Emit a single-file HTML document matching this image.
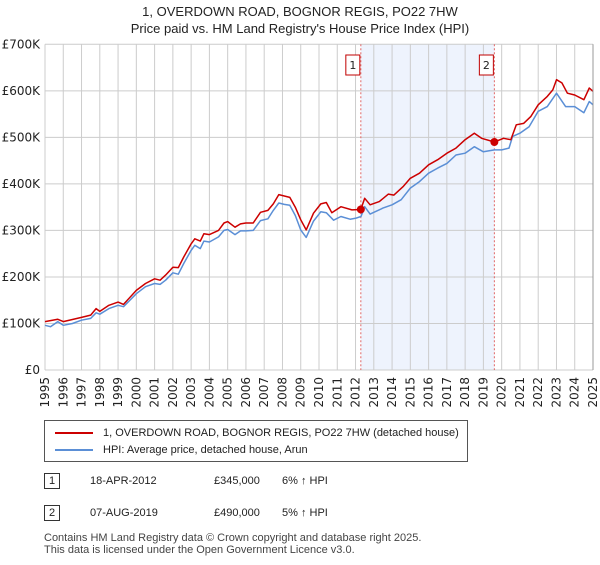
<!DOCTYPE html>
<html><head><meta charset="utf-8"><style>
body{margin:0;background:#fff;font-family:"Liberation Sans","DejaVu Sans",sans-serif;}
svg text{font-family:"DejaVu Sans","Liberation Sans",sans-serif;}
</style></head><body>
<svg width="600" height="560" xmlns="http://www.w3.org/2000/svg">
<g id="g"></g>
</svg>
<script>
const years=[1995,1996,1997,1998,1999,2000,2001,2002,2003,2004,2005,2006,2007,2008,2009,2010,2011,2012,2013,2014,2015,2016,2017,2018,2019,2020,2021,2022,2023,2024,2025];
const yTicks=[0,100000,200000,300000,400000,500000,600000,700000];
const yTickLabels=["£0","£100K","£200K","£300K","£400K","£500K","£600K","£700K"];
const hpiDates=[1995,1995.3,1995.7,1996,1996.5,1997,1997.5,1997.8,1998,1998.5,1999,1999.3,2000,2000.5,2001,2001.3,2001.6,2002,2002.3,2002.6,2003,2003.2,2003.5,2003.7,2004,2004.5,2004.8,2005,2005.4,2005.7,2006,2006.4,2006.8,2007.2,2007.5,2007.8,2008.1,2008.4,2008.7,2009,2009.3,2009.7,2010.1,2010.4,2010.8,2011.2,2011.7,2012,2012.3,2012.5,2012.8,2013.5,2014,2014.5,2015,2015.5,2016,2016.5,2017,2017.5,2018,2018.5,2019,2019.6,2020,2020.4,2020.6,2021,2021.5,2022,2022.5,2023,2023.5,2024,2024.5,2024.8,2025];
const hpiValues=[96,93,104,96,100,107,111,123,120,132,139,136,164,179,186,184,193,209,206,229,257,268,261,277,275,286,300,302,291,299,299,300,321,325,343,359,356,354,332,301,285,320,340,338,322,330,324,326,330,351,335,348,355,366,391,405,423,434,444,462,466,480,469,473,473,477,502,509,523,556,566,595,566,566,553,577,570];
const priceDates=[1995,1995.7,1996,1997,1997.5,1997.8,1998,1998.5,1999,1999.3,2000,2000.5,2001,2001.3,2001.6,2002,2002.3,2002.6,2003,2003.2,2003.5,2003.7,2004,2004.5,2004.8,2005,2005.4,2005.7,2006,2006.4,2006.8,2007.2,2007.5,2007.8,2008.1,2008.4,2008.7,2009,2009.3,2009.7,2010.1,2010.4,2010.7,2011.2,2011.8,2012.29,2012.5,2012.8,2013.3,2013.8,2014.1,2014.6,2015,2015.5,2016,2016.5,2017,2017.5,2018,2018.5,2018.9,2019.6,2020.1,2020.5,2020.8,2021.2,2021.6,2022,2022.5,2022.8,2023,2023.3,2023.6,2024,2024.5,2024.8,2025];
const priceValues=[104,109,104,113,118,132,126,139,146,141,171,186,196,193,204,221,220,243,271,282,277,293,291,300,316,319,307,314,316,316,339,343,357,377,374,371,350,323,301,337,357,360,338,351,344,345,369,355,362,378,376,394,412,423,441,452,466,477,495,509,498,490,498,495,527,530,545,570,588,602,624,617,595,591,581,606,599];
const sales=[{d:2012.29,v:345,l:"1"},{d:2019.6,v:490,l:"2"}];

const L=45,R=593,T=44.3,B=370;
const x=d=>L+(d-1995)/30*(R-L);
const y=v=>B-v/700000*(B-T);
const NS="http://www.w3.org/2000/svg";
const g=document.getElementById('g');
function mk(t,a,txt){const e=document.createElementNS(NS,t);for(const k in a)e.setAttribute(k,a[k]);if(txt!==undefined)e.textContent=txt;g.appendChild(e);return e;}
let sh=mk('rect',{x:x(sales[0].d),y:T,width:x(sales[1].d)-x(sales[0].d),height:B-T,fill:'#eef3fd'});


years.forEach(yr=>{const l=mk('line',{x1:x(yr),x2:x(yr),y1:T,y2:B,stroke:'#cccccc','stroke-width':1});


const tx=x(yr)+4,ty=377;
const t=mk('text',{x:tx,y:ty,'font-size':12,'text-anchor':'end',fill:'#222',transform:'rotate(-90 '+tx+' '+ty+')'},String(yr));

});
yTicks.forEach((v,i)=>{const l=mk('line',{x1:L,x2:R,y1:y(v),y2:y(v),stroke:'#cccccc','stroke-width':1});


const t=mk('text',{x:40,y:y(v)+4,'font-size':12,'text-anchor':'end',fill:'#222'},yTickLabels[i]);

});
sales.forEach(s=>{const l=mk('line',{x1:x(s.d),x2:x(s.d),y1:T,y2:B,stroke:'#e06666','stroke-width':1,'stroke-dasharray':'2,2'});


const r=mk('rect',{x:x(s.d)-15,y:55,width:14,height:20,fill:'#fff',stroke:'#c00000'});


const t=mk('text',{x:x(s.d)-8,y:69,'font-size':11,'text-anchor':'middle',fill:'#222'},s.l);

});
function line(ds,vs,c,n){const p=ds.map((d,i)=>(i?'L':'M')+x(d).toFixed(1)+','+y(vs[i]*1000).toFixed(1)).join('');
const e=mk('path',{d:p,fill:'none',stroke:c,'stroke-width':1.5,'stroke-linejoin':'round'});

}
line(hpiDates,hpiValues,'#5b8fd6','hpi-line');
line(priceDates,priceValues,'#cc0000','price-line');
sales.forEach(s=>{const c=mk('circle',{cx:x(s.d),cy:y(s.v*1000),r:4,fill:'#cc0000'});

});
mk('line',{x1:R,x2:R,y1:T,y2:B,stroke:'#999','stroke-width':1});
</script>
<div style="position:absolute;left:0;top:0;width:600px;text-align:center;font-size:13px;color:#222;line-height:17px;top:3px">1, OVERDOWN ROAD, BOGNOR REGIS, PO22 7HW<br>Price paid vs. HM Land Registry's House Price Index (HPI)</div>
<div style="position:absolute;left:44px;top:420px;width:424px;height:42px;border:1px solid #555;box-sizing:border-box;font-size:11px;color:#222;">
<div style="position:absolute;left:10px;top:6px;"><span style="display:inline-block;width:38px;height:2px;background:#cc0000;vertical-align:middle;margin-right:10px"></span>1, OVERDOWN ROAD, BOGNOR REGIS, PO22 7HW (detached house)</div>
<div style="position:absolute;left:10px;top:23px;"><span style="display:inline-block;width:38px;height:2px;background:#5b8fd6;vertical-align:middle;margin-right:10px"></span>HPI: Average price, detached house, Arun</div>
</div>
<div style="position:absolute;left:0;top:0;font-size:11px;color:#222">
<div style="position:absolute;left:44px;top:473px;width:16px;height:16px;border:1px solid #333;box-sizing:border-box;text-align:center;line-height:15px">1</div>
<div style="position:absolute;left:90px;top:475px;white-space:nowrap">18-APR-2012</div>
<div style="position:absolute;left:214px;top:475px;white-space:nowrap">£345,000</div>
<div style="position:absolute;left:282px;top:475px;white-space:nowrap">6% ↑ HPI</div>
<div style="position:absolute;left:44px;top:505px;width:16px;height:16px;border:1px solid #333;box-sizing:border-box;text-align:center;line-height:15px">2</div>
<div style="position:absolute;left:90px;top:507px;white-space:nowrap">07-AUG-2019</div>
<div style="position:absolute;left:214px;top:507px;white-space:nowrap">£490,000</div>
<div style="position:absolute;left:282px;top:507px;white-space:nowrap">5% ↑ HPI</div>
</div>
<div style="position:absolute;left:44px;top:532px;font-size:11px;color:#444;line-height:12px">Contains HM Land Registry data © Crown copyright and database right 2025.<br>This data is licensed under the Open Government Licence v3.0.</div>
</body></html>
